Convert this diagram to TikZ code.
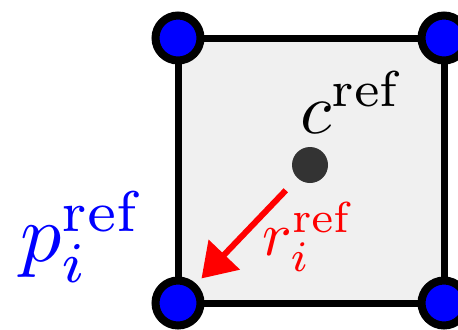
\documentclass[tikz,border=0pt]{standalone}
\usepackage{graphicx}
\usepackage{xcolor}
\usepackage{tikz}
\usetikzlibrary{arrows.meta,positioning}
\definecolor{cellGray}{HTML}{F0F0F0}
\definecolor{dotGray}{HTML}{333333}

\begin{document}
\begin{tikzpicture}[
  x=0.5pt,y=-0.5pt,
  cellbox/.style={draw=black,fill=cellGray,line width=3.5pt},
  vertex/.style={circle,draw=black,fill=blue,line width=4pt,minimum size=22.5pt,inner sep=0pt,outer sep=0pt},
  refdot/.style={circle,fill=dotGray,minimum size=18pt,inner sep=0pt,outer sep=0pt},
  refarrow/.style={-{Triangle[length=16.5pt,width=21pt]},line width=3pt,color=red,shorten <=8.5pt,shorten >=5.75pt},
  lbl/.style={anchor=base west,inner sep=0pt}
]
\clip (0,0) rectangle (458,329);
\coordinate (nw) at (178,38);
\coordinate (ne) at (444,38);
\coordinate (se) at (444,303);
\coordinate (sw) at (178,303);
\draw[cellbox] (sw) rectangle (ne);
\node[refdot] (c) at (310,165) {};
\foreach \corner in {nw,ne,se,sw}
  \node[vertex] (v-\corner) at (\corner) {};
\draw[refarrow] (c) -- (v-sw);
\node[lbl] (cLabel) at (300,133) {\scalebox{3.6}{$c^{\mathrm{ref}}$}};
\node[lbl,text=blue] (pLabel) at (20,261) {\scalebox{4.1}{$p_i^{\mathrm{ref}}$}};
\node[lbl,text=red] (rLabel) at (262,255) {\scalebox{3.1}{$r_i^{\mathrm{ref}}$}};
\end{tikzpicture}
\end{document}
